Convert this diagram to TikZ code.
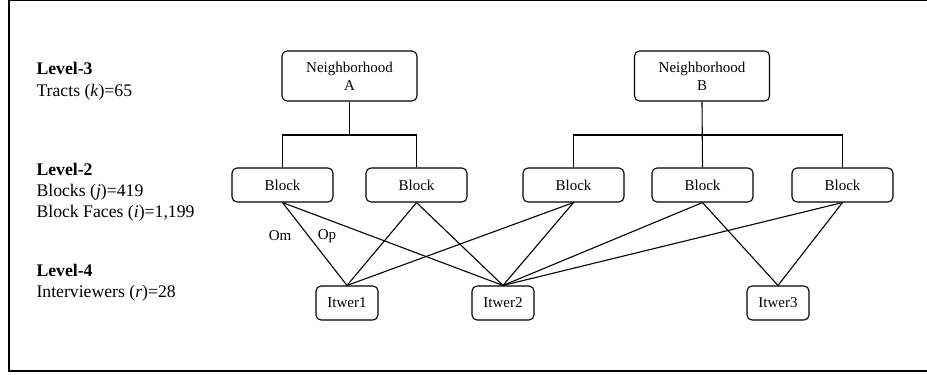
\documentclass[tikz,border=0pt]{standalone}
\usepackage{fontspec}
\setmainfont{Liberation Serif}
\usetikzlibrary{positioning}

\begin{document}
\begin{tikzpicture}[x=1pt, y=-1pt,
    box/.style={draw, line width=1.1pt, rounded corners=5pt, align=center, font=\fontsize{15}{17.7}\selectfont, inner sep=0pt},
    nbhd/.style={box, minimum width=135pt, minimum height=50pt},
    blk/.style={box, minimum width=101pt, minimum height=34pt},
    itw/.style={box, minimum width=62pt, minimum height=34pt},
    link/.style={line width=1.1pt},
    lvl/.style={anchor=base west, font=\fontsize{17.7}{21}\selectfont}]
    \useasboundingbox (0,0) rectangle (927,375);
    \draw[line width=1.3pt] (927,0.8) -- (9,0.8) -- (9,371) -- (927,371);

    % level labels
    \node[lvl] (l3) at (33,74) {\textbf{Level-3}};
    \node[lvl] (l3n) at (33,96) {Tracts (\textit{k})=65};
    \node[lvl] (l2) at (33,175) {\textbf{Level-2}};
    \node[lvl] (l2n) at (33,196) {Blocks (\textit{j})=419};
    \node[lvl] (l2f) at (33,217) {Block Faces (\textit{i})=1,199};
    \node[lvl] (l4) at (33,276) {\textbf{Level-4}};
    \node[lvl] (l4n) at (33,297) {Interviewers (\textit{r})=28};

    % tracts
    \node[nbhd] (nA) at (349.5,76) {Neighborhood\\A};
    \node[nbhd] (nB) at (702,76) {Neighborhood\\B};

    % blocks
    \node[blk] (b1) at (282.5,185) {Block};
    \node[blk] (b2) at (416.5,185) {Block};
    \node[blk] (b3) at (573.5,185) {Block};
    \node[blk] (b4) at (702.5,185) {Block};
    \node[blk] (b5) at (842.5,185) {Block};

    % interviewers
    \node[itw] (i1) at (347,303) {Itwer1};
    \node[itw] (i2) at (503,303) {Itwer2};
    \node[itw] (i3) at (778,303) {Itwer3};

    % tree
    \draw[link] (nA.south) -- (nA.south |- 0,135) coordinate (jA);
    \draw[link] (b1.north) |- (jA) -| (b2.north);
    \draw[link] (nB.south) -- (b4.north);
    \draw[link] (b3.north) |- (jA -| b4.north) -| (b5.north);

    % cross links
    \foreach \b/\i in {b1/i1, b1/i2, b2/i1, b2/i2, b3/i1, b3/i2, b4/i2, b4/i3, b5/i2, b5/i3}
        \draw[link] (\b.south) -- (\i.north);

    \node[font=\fontsize{15}{17.7}\selectfont] (om) at (280,236) {Om};
    \node[font=\fontsize{15}{17.7}\selectfont] (op) at (327,236) {Op};
\end{tikzpicture}
\end{document}
